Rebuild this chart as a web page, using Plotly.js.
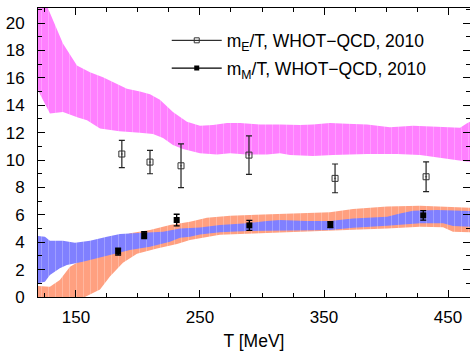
<!DOCTYPE html>
<html>
<head>
<meta charset="utf-8">
<script src="https://cdn.plot.ly/plotly-3.0.1.min.js"></script>
<style>html,body{margin:0;padding:0;background:#fff;}#chart{width:470px;height:351px;}</style>
</head>
<body>
<div id="chart"></div>
<script>
// Magenta band (m_E band)
const magUpperT = [119.4,127.4,131.5,139.5,150.8,161.3,171.8,179.8,191.1,201.6,209.7,217.7,228.2,239.5,250,260.5,271.8,282.3,298.4,314.5,330.6,341.1,354.8,368.5,384.7,403.2,421.8,441.1,459.7,465.3,467.7];
const magUpperV = [22.8,21.1,20.2,18.5,16.9,16.4,16.05,15.7,15.2,15.0,14.8,14.4,13.5,12.8,12.5,12.55,12.7,12.7,12.6,12.6,12.55,12.6,12.7,12.65,12.6,12.4,12.5,12.43,12.36,12.68,12.8];
const magLowerT = [119.4,129,139.5,151.6,158.9,169.4,185,201.6,212.1,220.2,228.2,236.3,250,263.7,274.2,287.9,304,314.5,322.6,341.1,357.3,384.7,408.9,427.4,446,465.3,467.7];
const magLowerV = [15.1,13.4,13.5,13.1,12.9,12.3,12.1,12.0,11.9,11.6,11.1,10.8,10.5,10.4,10.5,10.4,10.4,10.5,10.36,10.3,10.36,10.44,10.44,10.36,10.1,9.88,9.85];
// Blue band (m_M band)
const blueUpperT = [119.4,125,129,139.5,149.2,161.3,175,185.5,204,220.2,233.9,250,266.1,287.9,304,314.5,336.3,354.8,373.4,400.8,411.3,421.8,441.1,467.7];
const blueUpperV = [4.45,4.4,4.1,4.1,3.96,4.1,4.4,4.6,4.7,4.77,5.0,5.08,5.25,5.38,5.55,5.62,5.55,5.55,5.74,5.86,6.1,6.3,6.35,6.28];
const blueLowerT = [119.4,125,129,137,142.7,155.6,166.9,183,193.5,209.7,225.8,233.9,241.9,250,266.1,287.9,314.5,354.8,373.4,400.8,427.4,446,454,467.7];
const blueLowerV = [1.0,1.12,1.6,2.1,2.34,2.58,2.82,3.19,3.43,3.67,4.04,4.33,4.4,4.57,4.72,4.82,4.82,4.9,5.06,5.2,5.38,5.38,5.18,5.13];
// Salmon band
const salUpperT = [119.4,129,137,145.2,160,175,193.5,209.7,225.8,241.9,255.6,274.2,300.8,328.2,354.8,373.4,400.8,427.4,454,467.7];
const salUpperV = [0.8,0.75,1.24,2.2,3.0,3.8,4.65,4.9,5.25,5.5,5.79,5.93,6.03,6.1,6.18,6.42,6.6,6.67,6.6,6.52];
const salLowerT = [119.4,140,155,163.7,169.4,177.4,187.9,199.2,215.3,231.5,241.9,266.1,314.5,346.8,373.4,400.8,427.4,446,454,467.7];
const salLowerV = [0.0,-0.1,-0.1,0.3,0.55,1.5,2.5,3.15,3.55,3.87,4.16,4.55,4.72,4.85,4.9,5.0,5.13,5.1,4.77,4.72];
// Lattice points, WHOT-QCD 2010
const mE_T = [187,209.7,234.7,289.5,358.9,432.3];
const mE_V = [10.44,9.85,9.58,10.36,8.66,8.78];
const mE_err = [1.0,0.85,1.6,1.4,1.05,1.08];
const mM_T = [184,205,231.2,289.8,355.1,430];
const mM_V = [3.31,4.52,5.62,5.23,5.28,5.96];
const mM_err = [0.25,0.25,0.42,0.37,0.22,0.35];
const legendNames = ['m<sub>E</sub>/T, WHOT\u2212QCD, 2010','m<sub>M</sub>/T, WHOT\u2212QCD, 2010'];
const xTickVals = [150,250,350,450];
const yTickVals = [0,2,4,6,8,10,12,14,16,18,20];

const FONT = 'Liberation Sans, Arial, Helvetica, sans-serif';

function band(uT,uV,lT,lV,color){
  return {
    x: uT.concat(lT.slice().reverse()),
    y: uV.concat(lV.slice().reverse()),
    type:'scatter', mode:'lines', fill:'toself',
    fillcolor: color,
    fillpattern:{shape:'|', bgcolor:color, fgcolor:'rgba(255,255,255,0.35)', size:7, solidity:0.1},
    line:{width:0, color:color}, showlegend:false, hoverinfo:'skip'
  };
}
const traces = [
  band(salUpperT,salUpperV,salLowerT,salLowerV,'#ffa080'),
  band(blueUpperT,blueUpperV,blueLowerT,blueLowerV,'#8080ff'),
  band(magUpperT,magUpperV,magLowerT,magLowerV,'#ff80ff'),
  {x:mE_T, y:mE_V, type:'scatter', mode:'markers', showlegend:false,
   marker:{symbol:'square-open-dot', size:6, color:'#333', line:{width:1, color:'#333'}},
   error_y:{type:'data', array:mE_err, visible:true, color:'#222', thickness:1.2, width:3}},
  {x:mM_T, y:mM_V, type:'scatter', mode:'markers', showlegend:false,
   marker:{symbol:'square', size:6, color:'#000'},
   error_y:{type:'data', array:mM_err, visible:true, color:'#000', thickness:1.3, width:3}},
  {x:[null], y:[null], type:'scatter', mode:'lines+markers', name:legendNames[0], legendgroup:'a',
   line:{color:'#000', width:1}, marker:{symbol:'square-open', size:5, color:'#333', line:{width:1,color:'#333'}}},
  {x:[null], y:[null], type:'scatter', mode:'lines+markers', name:legendNames[1], legendgroup:'b',
   line:{color:'#000', width:1.3}, marker:{symbol:'square', size:5, color:'#000'}}
];
const axisCommon = {
  showline:true, linecolor:'#000', linewidth:1, mirror:'ticks', ticks:'inside',
  ticklen:7, tickwidth:1, tickcolor:'#000', showgrid:false, zeroline:false,
  tickfont:{family:FONT, size:17, color:'#000'}
};
const layout = {
  width:470, height:351,
  margin:{l:38, r:0, t:8, b:54},
  paper_bgcolor:'#fff', plot_bgcolor:'#fff',
  font:{family:FONT, size:17, color:'#000'},
  xaxis: Object.assign({}, axisCommon, {
    range:[119.4,467.7], tickvals:xTickVals, ticktext:xTickVals.map(String),
    minor:{dtick:25, tick0:0, ticks:'inside', ticklen:4, tickcolor:'#000', tickwidth:1},
    ticklabelstandoff:5,
    title:{text:'T [MeV]', font:{family:FONT, size:17.5}, standoff:16}
  }),
  yaxis: Object.assign({}, axisCommon, {
    range:[0,21.1], tickvals:yTickVals, ticktext:yTickVals.map(String),
    minor:{dtick:1, tick0:0, ticks:'inside', ticklen:4, tickcolor:'#000', tickwidth:1},
    ticklabelstandoff:9
  }),
  showlegend:true,
  legend:{x:0.298, y:0.95, xanchor:'left', yanchor:'top', bgcolor:'rgba(0,0,0,0)',
    itemwidth:50, tracegroupgap:2, traceorder:'grouped',
    font:{family:FONT, size:17.5, color:'#000'}}
};
Plotly.newPlot('chart', traces, layout, {displayModeBar:false, staticPlot:true});
</script>
</body>
</html>
